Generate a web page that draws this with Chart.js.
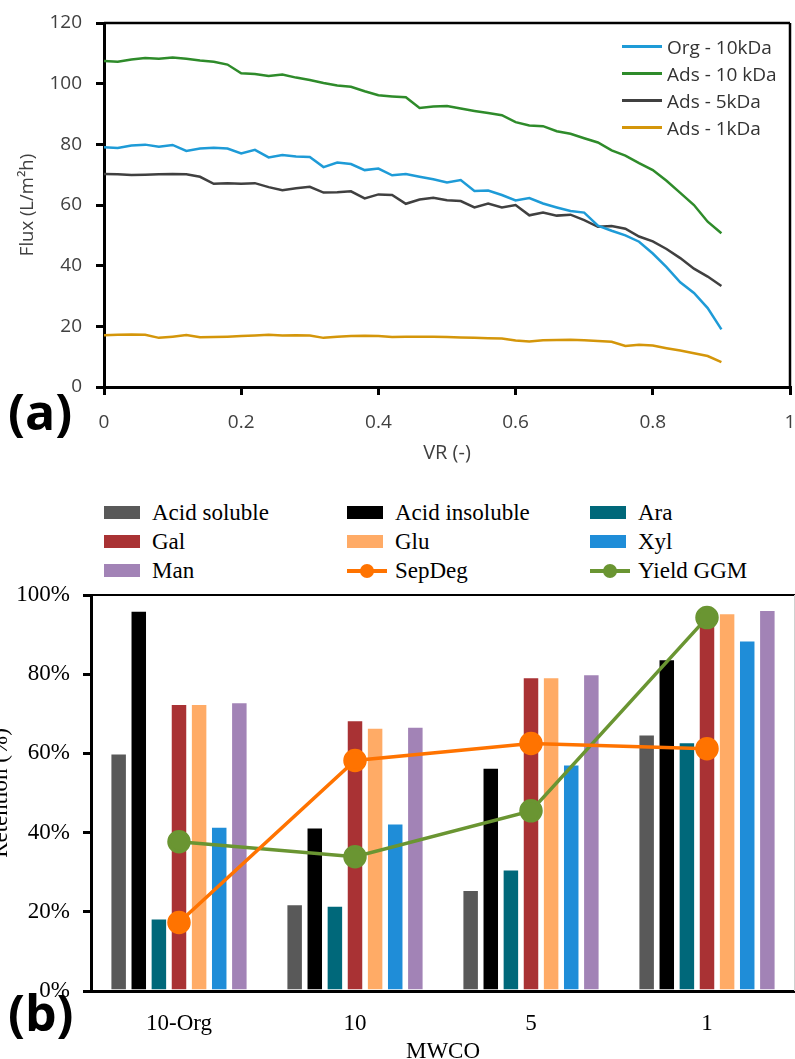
<!DOCTYPE html>
<html>
<head>
<meta charset="utf-8">
<script src="https://cdn.jsdelivr.net/npm/chart.js@4.4.1/dist/chart.umd.min.js"></script>
<style>
  html, body { margin: 0; padding: 0; background: #fff; }
  body { width: 795px; height: 1059px; position: relative; overflow: hidden; }
  canvas { position: absolute; }
  #fluxChart { left: 0; top: 0; }
  #retChart { left: -20px; top: 575px; }
  .panel { position: absolute; left: 8px; font-family: "Open Sans", "DejaVu Sans", sans-serif; font-weight: 700; font-size: 50px; line-height: 1; color: #000; }
  #legendA { position: absolute; left: 622px; top: 33px; font-family: "Open Sans", sans-serif; font-size: 19px; color: #333; }
  #legendA .item { display: flex; align-items: center; height: 27px; }
  #legendA .ln { width: 40px; height: 3px; margin-right: 5px; }
  #legendB { position: absolute; left: 104px; top: 498px; font-family: "Liberation Serif", serif; font-size: 23px; color: #000;
             display: grid; grid-template-columns: 243px 243px 200px; grid-auto-rows: 29px; }
  #legendB .item { display: flex; align-items: center; }
  #legendB .box { width: 36px; height: 13px; margin-right: 12px; }
  #legendB .lmark { width: 40px; height: 14px; margin-right: 8px; position: relative; }
  #legendB .lmark .l { position: absolute; left: 0; right: 0; top: 5px; height: 4px; }
  #legendB .lmark .d { position: absolute; left: 13px; top: 0; width: 14px; height: 14px; border-radius: 50%; }
</style>
</head>
<body>
<canvas id="fluxChart" width="795" height="475"></canvas>
<div id="legendA"></div>
<div class="panel" style="top:386px">(a)</div>

<div id="legendB"></div>
<canvas id="retChart" width="820" height="500"></canvas>
<div class="panel" style="top:987px">(b)</div>

<script>
// ---- (a) flux vs volume reduction ----
const vr = [0, 0.02, 0.04, 0.06, 0.08, 0.1, 0.12, 0.14, 0.16, 0.18,
  0.2, 0.22, 0.24, 0.26, 0.28, 0.3, 0.32, 0.34, 0.36, 0.38,
  0.4, 0.42, 0.44, 0.46, 0.48, 0.5, 0.52, 0.54, 0.56, 0.58,
  0.6, 0.62, 0.64, 0.66, 0.68, 0.7, 0.72, 0.74, 0.76, 0.78,
  0.8, 0.82, 0.84, 0.86, 0.88, 0.9];

const orgTen = [79.0, 78.8, 79.6, 79.9, 79.2, 79.8, 77.8, 78.6, 78.9, 78.6,
  77.0, 78.2, 75.7, 76.5, 76.0, 75.8, 72.5, 74.0, 73.5, 71.5,
  72.0, 69.8, 70.2, 69.3, 68.5, 67.4, 68.2, 64.6, 64.8, 63.3,
  61.5, 62.3, 60.5, 59.2, 58.0, 57.5, 53.2, 51.5, 50.0, 47.9,
  44.0, 39.5, 34.5, 31.0, 26.0, 19.0];

const adsTen = [107.5, 107.2, 108.0, 108.5, 108.2, 108.6, 108.2, 107.6, 107.2, 106.3,
  103.4, 103.2, 102.5, 103.0, 102.0, 101.2, 100.2, 99.4, 99.0, 97.5,
  96.2, 95.8, 95.5, 92.0, 92.5, 92.6, 91.8, 91.0, 90.3, 89.6,
  87.3, 86.2, 86.0, 84.3, 83.5, 82.0, 80.6, 78.0, 76.3, 73.8,
  71.5, 68.0, 64.0, 60.0, 54.5, 50.7];

const adsFive = [70.2, 70.1, 69.9, 70.0, 70.1, 70.2, 70.1, 69.3, 67.0, 67.2,
  67.0, 67.2, 65.9, 64.9, 65.5, 66.0, 64.1, 64.2, 64.5, 62.2,
  63.5, 63.3, 60.4, 61.8, 62.4, 61.6, 61.3, 59.2, 60.5, 59.2,
  60.0, 56.6, 57.5, 56.5, 56.8, 55.0, 52.8, 53.1, 52.2, 49.6,
  48.0, 45.5, 42.5, 39.0, 36.4, 33.3];

const adsOne = [17.1, 17.2, 17.3, 17.2, 16.2, 16.6, 17.1, 16.4, 16.5, 16.6,
  16.8, 17.0, 17.2, 17.0, 17.1, 17.0, 16.2, 16.6, 16.8, 16.9,
  16.8, 16.5, 16.6, 16.6, 16.6, 16.5, 16.3, 16.2, 16.1, 16.0,
  15.3, 15.0, 15.4, 15.5, 15.6, 15.4, 15.2, 14.9, 13.5, 13.9,
  13.7, 12.8, 12.0, 11.1, 10.2, 8.2];

// ---- (b) retention by MWCO ----
const mwco = ["10-Org", "10", "5", "1"];
const acidSoluble = [60.0, 21.9, 25.5, 64.8];
const acidInsoluble = [96.0, 41.3, 56.4, 83.8];
const ara = [18.3, 21.5, 30.7, 62.8];
const gal = [72.5, 68.4, 79.2, 95.0];
const glu = [72.5, 66.5, 79.2, 95.4];
const xyl = [41.5, 42.3, 57.2, 88.5];
const man = [72.9, 66.7, 80.0, 96.2];
const sepDeg = [17.3, 58.2, 62.5, 61.2];
const yieldGGM = [37.7, 33.9, 45.5, 94.3];

// draws the top/right edges of the plot box
const frame = {
  id: "frame",
  afterDraw(chart, args, opts) {
    const { ctx, chartArea: a } = chart;
    ctx.save();
    ctx.lineWidth = opts.width;
    ctx.strokeStyle = opts.topColor;
    ctx.beginPath();
    ctx.moveTo(a.left, a.top);
    ctx.lineTo(a.right, a.top);
    ctx.stroke();
    ctx.strokeStyle = opts.rightColor;
    ctx.beginPath();
    ctx.moveTo(a.right, a.top);
    ctx.lineTo(a.right, a.bottom);
    ctx.stroke();
    ctx.restore();
  },
};

const toXY = (ys) => ys.map((y, i) => ({ x: vr[i], y: y }));

const fluxSeries = [
  { label: "Org - 10kDa", data: orgTen, color: "#1E9BD7" },
  { label: "Ads - 10 kDa", data: adsTen, color: "#2E8B2A" },
  { label: "Ads - 5kDa", data: adsFive, color: "#404040" },
  { label: "Ads - 1kDa", data: adsOne, color: "#D4960A" },
];

const sansTick = { family: "Open Sans", size: 19 };

const fluxChart = new Chart(document.getElementById("fluxChart"), {
  type: "scatter",
  data: {
    datasets: fluxSeries.map((s) => ({
      label: s.label,
      data: toXY(s.data),
      showLine: true,
      borderColor: s.color,
      backgroundColor: s.color,
      borderWidth: 2.5,
      pointRadius: 0,
      tension: 0,
    })),
  },
  options: {
    responsive: false,
    animation: false,
    layout: { autoPadding: false, padding: { top: 23, right: 5, left: 0, bottom: 0 } },
    plugins: {
      legend: { display: false },
      tooltip: { enabled: false },
      frame: { width: 2.5, topColor: "#000", rightColor: "#000" },
    },
    scales: {
      x: {
        type: "linear",
        min: 0,
        max: 1,
        ticks: {
          stepSize: 0.2,
          color: "#404040",
          font: sansTick,
          padding: 16,
          callback: (v) => String(+v.toFixed(1)),
        },
        grid: { drawOnChartArea: false, drawTicks: true, tickLength: 8, tickColor: "#000", lineWidth: 3 },
        border: { color: "#000", width: 3 },
        title: {
          display: true,
          text: "VR (-)",
          color: "#404040",
          font: { family: "Open Sans", size: 20 },
          padding: { top: 0, bottom: 10 },
        },
        afterFit: (s) => {
          s.height = 88;
          s.paddingLeft = 0; // keep the tick padding from shrinking the plot
          s.paddingRight = 0;
        },
      },
      y: {
        min: 0,
        max: 120,
        ticks: { stepSize: 20, color: "#404040", font: sansTick, padding: 14 },
        grid: { drawOnChartArea: false, drawTicks: true, tickLength: 8, tickColor: "#000", lineWidth: 3 },
        border: { color: "#000", width: 3 },
        title: {
          display: true,
          text: "Flux (L/m²h)",
          color: "#404040",
          font: { family: "Open Sans", size: 18.5 },
          padding: { top: 17, bottom: 0 },
        },
        afterFit: (s) => {
          s.width = 104;
          s.paddingTop = 0;
          s.paddingBottom = 0;
        },
      },
    },
  },
  plugins: [frame],
});

// legend for (a)
const legA = document.getElementById("legendA");
fluxChart.data.datasets.forEach((ds) => {
  const row = document.createElement("div");
  row.className = "item";
  row.innerHTML = `<span class="ln" style="background:${ds.borderColor}"></span><span>${ds.label}</span>`;
  legA.appendChild(row);
});

// ---- chart (b) ----
const barSeries = [
  { label: "Acid soluble", data: acidSoluble, color: "#595959" },
  { label: "Acid insoluble", data: acidInsoluble, color: "#000000" },
  { label: "Ara", data: ara, color: "#00687A" },
  { label: "Gal", data: gal, color: "#A93234" },
  { label: "Glu", data: glu, color: "#FFAB66" },
  { label: "Xyl", data: xyl, color: "#1F8DD8" },
  { label: "Man", data: man, color: "#A283B6" },
];
const lineSeries = [
  { label: "SepDeg", data: sepDeg, color: "#FF7300" },
  { label: "Yield GGM", data: yieldGGM, color: "#6A9532" },
];

const serif = "Liberation Serif";

const retChart = new Chart(document.getElementById("retChart"), {
  data: {
    labels: mwco,
    datasets: [
      ...lineSeries.map((s) => ({
        type: "line",
        label: s.label,
        data: s.data,
        borderColor: s.color,
        backgroundColor: s.color,
        pointBackgroundColor: s.color,
        pointBorderColor: s.color,
        borderWidth: 3.5,
        pointRadius: 10,
        order: 1,
      })),
      ...barSeries.map((s) => ({
        type: "bar",
        label: s.label,
        data: s.data,
        backgroundColor: s.color,
        borderColor: "rgba(255,255,255,0.5)",
        borderWidth: 1,
        categoryPercentage: 0.8,
        barPercentage: 0.82,
        order: 2,
      })),
    ],
  },
  options: {
    responsive: false,
    animation: false,
    layout: { autoPadding: false, padding: { top: 20, right: 5, left: 0, bottom: 0 } },
    plugins: {
      legend: { display: false },
      tooltip: { enabled: false },
      frame: { width: 2, topColor: "#000", rightColor: "#d0d0d0" },
    },
    scales: {
      x: {
        ticks: { color: "#000", font: { family: serif, size: 23 }, padding: 19 },
        grid: { display: false, drawTicks: false },
        border: { color: "#000", width: 3 },
        title: {
          display: true,
          text: "MWCO",
          color: "#000",
          font: { family: serif, size: 23 },
          padding: { top: 0, bottom: 9 },
        },
        afterFit: (s) => {
          s.height = 84;
          s.paddingLeft = 0;
          s.paddingRight = 0;
        },
      },
      y: {
        min: 0,
        max: 100,
        ticks: {
          stepSize: 20,
          color: "#000",
          font: { family: serif, size: 23 },
          padding: 13,
          callback: (v) => v + "%",
        },
        grid: { drawOnChartArea: false, drawTicks: true, tickLength: 8, tickColor: "#000", lineWidth: 3 },
        border: { color: "#000", width: 3 },
        title: {
          display: true,
          text: "Retention (%)",
          color: "#000",
          font: { family: serif, size: 23 },
          padding: { top: 7, bottom: 0 },
        },
        afterFit: (s) => {
          s.width = 111;
          s.paddingTop = 0;
          s.paddingBottom = 0;
        },
      },
    },
  },
  plugins: [frame],
});

// legend for (b): 3 columns, bars first then the two lines
const legB = document.getElementById("legendB");
const legOrder = [...barSeries.map((s) => ({ ...s, kind: "bar" })), ...lineSeries.map((s) => ({ ...s, kind: "line" }))];
legOrder.forEach((s) => {
  const it = document.createElement("div");
  it.className = "item";
  const mark = s.kind === "bar"
    ? `<span class="box" style="background:${s.color}"></span>`
    : `<span class="lmark"><span class="l" style="background:${s.color}"></span><span class="d" style="background:${s.color}"></span></span>`;
  it.innerHTML = mark + `<span>${s.label}</span>`;
  legB.appendChild(it);
});
</script>
</body>
</html>
